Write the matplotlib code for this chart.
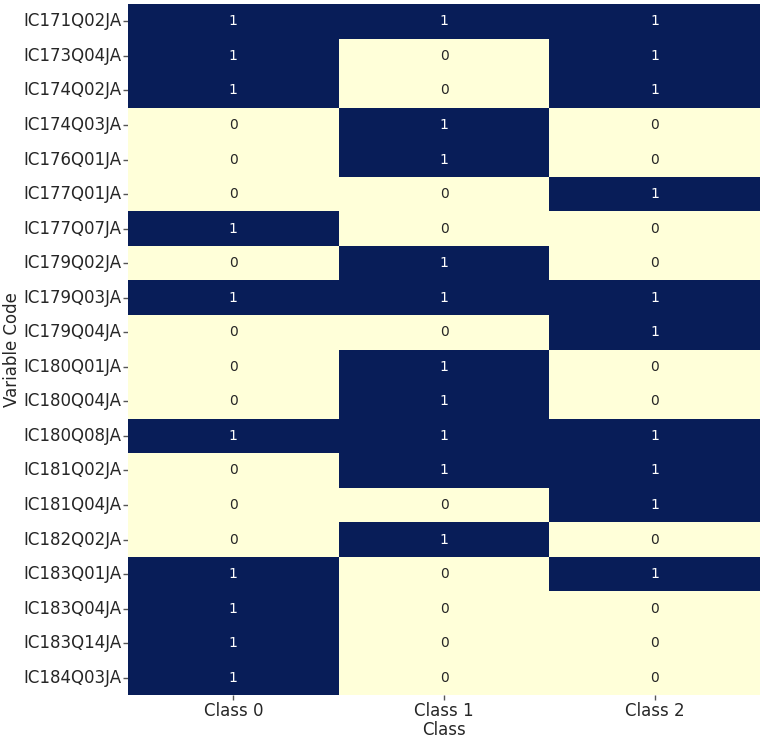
import matplotlib
matplotlib.use("Agg")
import matplotlib.pyplot as plt
import seaborn as sns
import numpy as np
import pandas as pd

variables = ["IC171Q02JA", "IC173Q04JA", "IC174Q02JA", "IC174Q03JA", "IC176Q01JA",
             "IC177Q01JA", "IC177Q07JA", "IC179Q02JA", "IC179Q03JA", "IC179Q04JA",
             "IC180Q01JA", "IC180Q04JA", "IC180Q08JA", "IC181Q02JA", "IC181Q04JA",
             "IC182Q02JA", "IC183Q01JA", "IC183Q04JA", "IC183Q14JA", "IC184Q03JA"]
classes = ["Class 0", "Class 1", "Class 2"]
class0 = [1, 1, 1, 0, 0, 0, 1, 0, 1, 0, 0, 0, 1, 0, 0, 0, 1, 1, 1, 1]
class1 = [1, 0, 0, 1, 1, 0, 0, 1, 1, 0, 1, 1, 1, 1, 0, 1, 0, 0, 0, 0]
class2 = [1, 1, 1, 0, 0, 1, 0, 0, 1, 1, 0, 0, 1, 1, 1, 0, 1, 0, 0, 0]

df = pd.DataFrame({classes[0]: class0, classes[1]: class1, classes[2]: class2},
                  index=variables)

sns.set_theme(style="white")
plt.rcParams['font.family'] = ['DejaVu Sans']

fig = plt.figure(figsize=(7.67, 7.39), dpi=100)
ax = fig.add_axes([0.1669, 0.0595, 0.824, 0.935])
sns.heatmap(df, cmap="YlGnBu", annot=True, fmt="d", cbar=False, ax=ax,
            annot_kws={"fontsize": 10})
ax.set_xlabel("Class", fontsize=12, color="#262626", labelpad=1)
ax.set_ylabel("Variable Code", fontsize=12, color="#262626", labelpad=1.5)
ax.tick_params(axis="both", labelsize=12, labelcolor="#262626", color="#555555",
               length=3.5, width=1, pad=1.2, left=True, bottom=True)
plt.setp(ax.get_yticklabels(), rotation=0)
fig.savefig("out.png", dpi=100)
